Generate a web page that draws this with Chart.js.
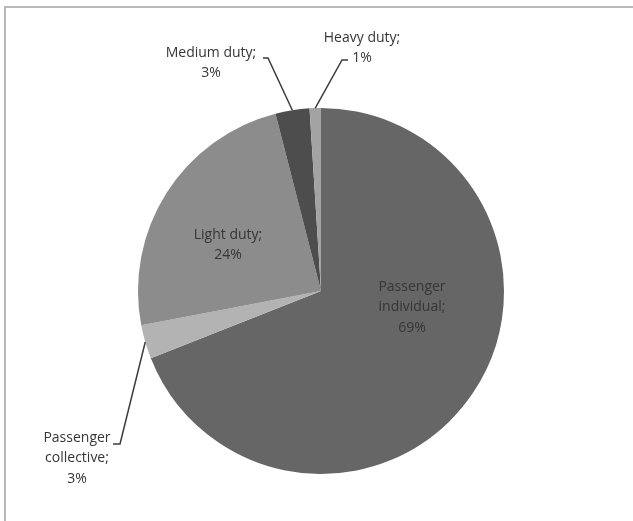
<!DOCTYPE html>
<html>
<head>
<meta charset="utf-8">
<script src="https://cdn.jsdelivr.net/npm/chart.js@4"></script>
<style>
  html, body { margin: 0; padding: 0; background: #fff; }
  #wrap { position: relative; width: 633px; height: 521px; overflow: hidden; }
  #frame { position: absolute; left: 4px; top: 6px; width: 700px; height: 600px;
           border-top: 2px solid #b9b9b9; border-left: 2px solid #b9b9b9; box-sizing: border-box; }
  canvas { position: absolute; left: 0; top: 0; }
</style>
</head>
<body>
<div id="wrap">
  <div id="frame"></div>
  <canvas id="chart" width="633" height="521"></canvas>
</div>
<script>
// data
const categories = ['Passenger individual', 'Passenger collective', 'Light duty', 'Medium duty', 'Heavy duty'];
const shares = [69, 3, 24, 3, 1];
const sliceColors = ['#666666', '#b3b3b3', '#8c8c8c', '#4d4d4d', '#a3a3a3'];

// label layout (first line centre) and leader stubs
const labelPos = [
  { x: 412, y: 287, wrap: true },
  { x: 77, y: 438, wrap: true },
  { x: 228, y: 235, wrap: false },
  { x: 211, y: 53, wrap: false },
  { x: 362, y: 38, wrap: false }
];
const leaders = [null, { x: 113, y: 444, dx: 7 }, null, { x: 263, y: 58, dx: 5 }, { x: 348, y: 60, dx: -6 }];

const labelPlugin = {
  id: 'pieLabels',
  afterDatasetsDraw(chart) {
    const ctx = chart.ctx;
    const arcs = chart.getDatasetMeta(0).data;
    ctx.save();
    ctx.font = '14px "Open Sans", sans-serif';
    ctx.fillStyle = '#363636';
    ctx.textAlign = 'center';
    ctx.textBaseline = 'middle';
    arcs.forEach((arc, i) => {
      const name = categories[i] + ';';
      const lines = labelPos[i].wrap ? name.split(' ') : [name];
      lines.push(shares[i] + '%');
      lines.forEach((t, k) => ctx.fillText(t, labelPos[i].x, labelPos[i].y + k * 20.5));
      const l = leaders[i];
      if (l) {
        const p = arc.getProps(['x', 'y', 'startAngle', 'endAngle', 'outerRadius'], true);
        const mid = (p.startAngle + p.endAngle) / 2;
        const ex = p.x + Math.cos(mid) * p.outerRadius;
        const ey = p.y + Math.sin(mid) * p.outerRadius;
        ctx.strokeStyle = '#3c3c3c';
        ctx.lineWidth = 1.5;
        ctx.beginPath();
        ctx.moveTo(l.x, l.y);
        ctx.lineTo(l.x + l.dx, l.y);
        ctx.lineTo(ex, ey);
        ctx.stroke();
      }
    });
    ctx.restore();
  }
};

new Chart(document.getElementById('chart'), {
  type: 'pie',
  data: {
    labels: categories,
    datasets: [{ data: shares, backgroundColor: sliceColors, borderWidth: 0 }]
  },
  options: {
    responsive: false,
    animation: false,
    layout: { padding: { left: 138, right: 129, top: 108, bottom: 47 } },
    plugins: { legend: { display: false }, tooltip: { enabled: false } }
  },
  plugins: [labelPlugin]
});
</script>
</body>
</html>
